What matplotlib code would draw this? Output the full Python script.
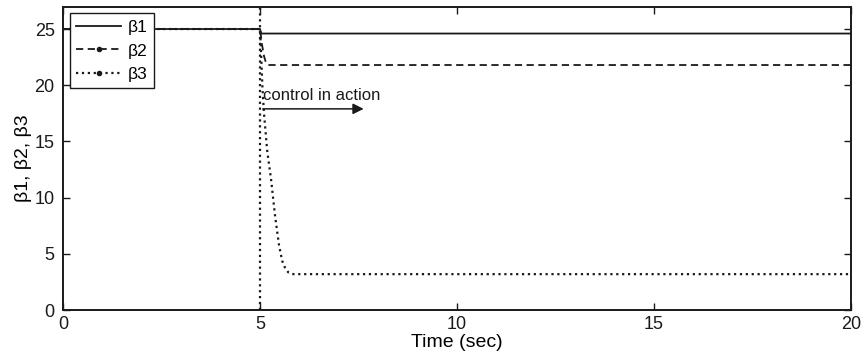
import numpy as np
import matplotlib
matplotlib.use('Agg')
from matplotlib import pyplot as plt

plt.rcParams['font.family'] = ['Liberation Sans', 'DejaVu Sans']

# time samples and responses of the three parameters
t1 = [0, 5.0, 5.03, 20]
b1 = [25, 25, 24.6, 24.6]

t2 = [0, 5.0, 5.05, 5.1, 5.15, 5.2, 20]
b2 = [25, 25, 23.6, 22.6, 22.0, 21.8, 21.8]

t3 = [0, 5.0, 5.03, 5.06, 5.1, 5.18, 5.28, 5.38, 5.48, 5.56, 5.64, 5.72, 5.85, 20]
b3 = [25, 25, 22.5, 19.8, 17.5, 14.2, 11.6, 8.4, 5.8, 4.4, 3.7, 3.35, 3.2, 3.2]

t_switch = 5
xticks = [0, 5, 10, 15, 20]
yticks = [0, 5, 10, 15, 20, 25]

fig = plt.figure(figsize=(8.64, 3.64), dpi=100)
ax = fig.add_axes([0.073, 0.148, 0.912, 0.834])

ax.plot(t1, b1, '-', color='#1a1a1a', lw=1.3, label='β1')
ax.plot(t2, b2, '--', color='#1a1a1a', lw=1.3, marker='.', markevery=[], label='β2',
        dashes=(4, 2.5))
ax.plot(t3, b3, ':', color='#1a1a1a', lw=1.6, marker='.', markevery=[], label='β3')
ax.axvline(t_switch, color='#1a1a1a', ls=':', lw=1.6)

# arrow marking the start of the controller
ax.annotate('', xy=(7.7, 17.9), xytext=(5.0, 17.9),
            arrowprops=dict(arrowstyle='-|>', color='#1a1a1a', lw=1.1,
                            mutation_scale=16))
ax.text(5.08, 18.7, 'control in action', fontsize=12, color='#1a1a1a',
        ha='left', va='baseline')

ax.set_xlim(0, 20)
ax.set_ylim(0, 27)
ax.set_xticks(xticks)
ax.set_yticks(yticks)
ax.tick_params(direction='in', top=True, right=True, length=5, width=1,
               labelsize=13, colors='#1a1a1a')
ax.tick_params(axis='x', pad=4)
ax.tick_params(axis='y', pad=6)
for s in ax.spines.values():
    s.set_linewidth(1.4)
    s.set_color('#1a1a1a')

ax.set_xlabel('Time (sec)', fontsize=14, labelpad=1)
ax.set_ylabel('β1, β2, β3', fontsize=14, labelpad=2)

leg = ax.legend(loc='upper left', fontsize=12.5, fancybox=False, framealpha=1,
                edgecolor='#1a1a1a', borderpad=0.35, handlelength=2.6,
                handletextpad=0.4, labelspacing=0.5, borderaxespad=0.4)
leg.get_frame().set_linewidth(1.0)

fig.savefig('out.png', dpi=100)
